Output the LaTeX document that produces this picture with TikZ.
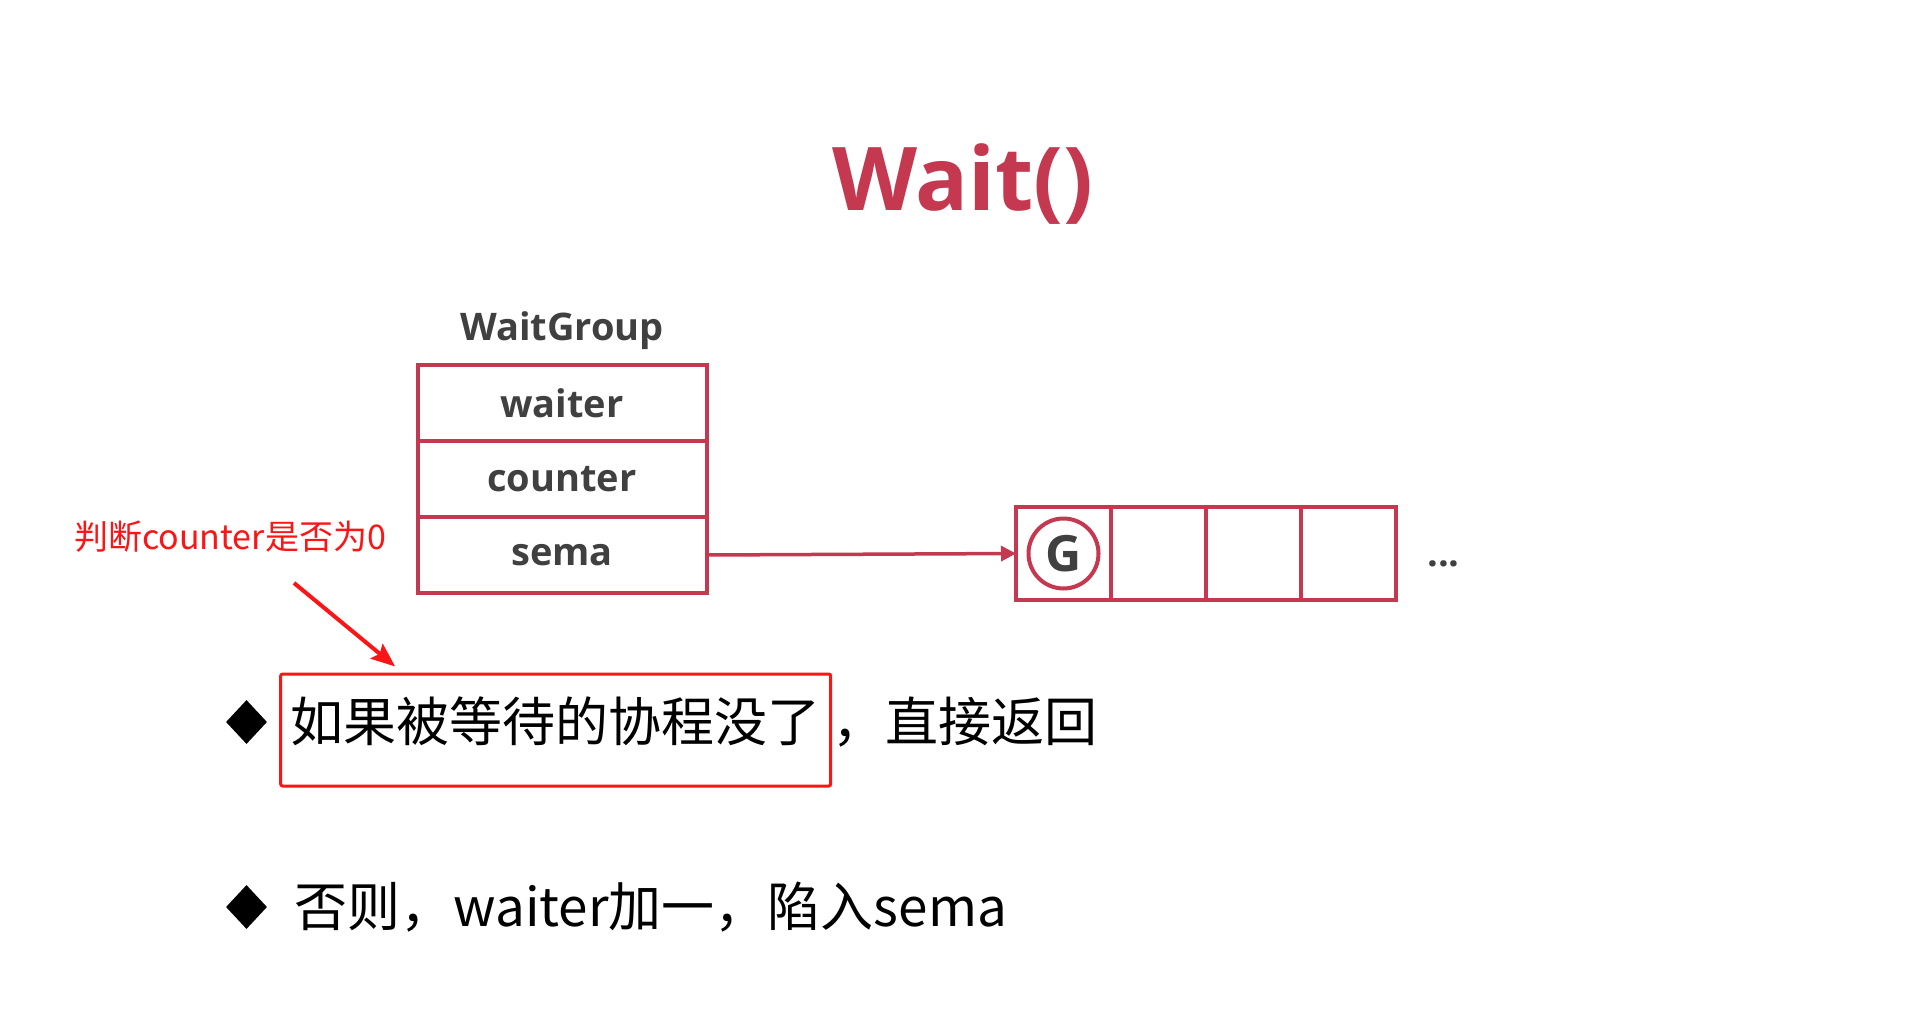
\documentclass[tikz,border=0pt]{standalone}
\usepackage{fontspec}
\setmainfont{Open Sans}
\newfontfamily\cjk{Noto Sans CJK SC}
\usepackage{tikz}
\usetikzlibrary{positioning}
\usetikzlibrary{chains}
\usetikzlibrary{shapes.geometric}
\usetikzlibrary{arrows.meta}
\definecolor{wgred}{RGB}{196,56,80}
\definecolor{annotred}{RGB}{250,22,22}
\definecolor{textgray}{RGB}{64,64,64}
\tikzset{
	>={Latex},
	titel/.style={
		font=\fontsize{88}{96}\selectfont\bfseries,
		text=wgred,
		inner sep=0pt},
	caption/.style={
		font=\fontsize{38}{44}\selectfont\bfseries,
		text=textgray,
		inner sep=0pt},
	field/.style={
		rectangle,
		draw=wgred, line width=4pt,
		outer sep=0pt,
		minimum width=289pt,
		minimum height=76pt,
		font=\fontsize{38}{44}\selectfont\bfseries,
		text=textgray,
		on chain},
	slot/.style={
		rectangle,
		draw=wgred, line width=4pt,
		outer sep=0pt,
		minimum width=95pt,
		minimum height=93pt,
		on chain},
	coro/.style={
		circle,
		draw=wgred, line width=4pt,
		minimum size=70pt,
		inner sep=0pt,
		font=\fontsize{50}{56}\selectfont\bfseries,
		text=textgray},
	bullet/.style={diamond, fill=black, inner sep=0pt, minimum width=41pt, minimum height=44pt},
	point/.style={font=\cjk\fontsize{53}{60}\selectfont, inner sep=0pt, text height=46pt, text depth=8pt},
	redbox/.style={point, draw=annotred, line width=3pt, rounded corners=2pt, inner xsep=10pt, text depth=24pt, minimum height=112pt},
	note/.style={font=\cjk\fontsize{34}{40}\selectfont, text=annotred, inner sep=0pt},
	link/.style={draw=wgred, line width=3.5pt, -{Triangle[length=15pt,width=15pt]}},
	notelink/.style={draw=annotred, line width=4pt, -{Stealth[length=24pt,width=19pt,inset=4pt]}},
}
\begin{document}
\begin{tikzpicture}
	[x=1pt, y=1pt, node distance=0pt]
	\useasboundingbox (0,0) rectangle (1920,-1015);
	\node[titel, anchor=base] (titel) at (963,-210) {Wait()};
	
	\begin{scope}[start chain=fields going below]
		\node[field] (waiter) at (562,-403) {waiter};
		\node[field] (counter) {counter};
		\node[field] (sema) {sema};
	\end{scope}
	\node[caption, above=15pt of waiter] (wg) {WaitGroup};
	
	\begin{scope}[start chain=queue going right]
		\node[slot] (s1) at (1063.5,-553.5) {};
		\node[slot] (s2) {};
		\node[slot] (s3) {};
		\node[slot] (s4) {};
	\end{scope}
	\node[coro] (g) at (s1) {G};
	\node[caption, right=31pt of s4, yshift=-10pt] (dots) {...};
	\draw[link] (sema.east) -- (s1.west);
	
	\node[note] (note) at (230,-537) {判断counter是否为0};
	
	\node[bullet] (b1) at (246.5,-722) {};
	\node[redbox, right=12pt of b1, yshift=-8pt] (t1) {如果被等待的协程没了};
	\node[point, anchor=base west] (t1b) at (t1.base east) {，直接返回};
	\draw[notelink] ([xshift=64pt,yshift=-30pt]note.south) -- ([xshift=116pt,yshift=6pt]t1.north west);
	
	\node[bullet] (b2) at (246.5,-907) {};
	\node[point, right=27pt of b2] (t2) {否则，waiter加一，陷入sema};
\end{tikzpicture}
\end{document}
